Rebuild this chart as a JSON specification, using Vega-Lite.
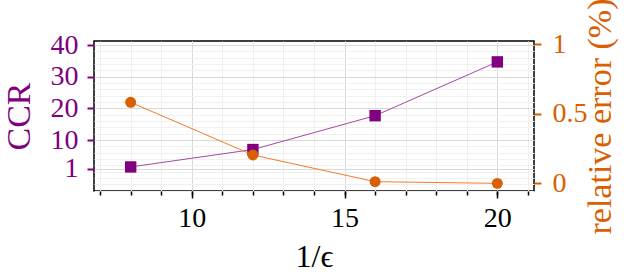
{
  "$schema": "https://vega.github.io/schema/vega-lite/v6.json",
  "width": 440,
  "height": 150,
  "autosize": {"type": "none"},
  "padding": {"left": 94, "top": 41, "right": 90, "bottom": 84},
  "background": "white",
  "config": {
    "view": {"stroke": "black", "strokeWidth": 1.5},
    "font": "Liberation Serif",
    "text": {"font": "Liberation Serif"},
    "axis": {"domain": false, "labelFont": "Liberation Serif", "titleFont": "Liberation Serif", "titleFontWeight": "normal"}
  },
  "data": {
    "values": [
      {"inv_eps": 8, "ccr": 1.5, "err": 0.583},
      {"inv_eps": 12, "ccr": 7.0, "err": 0.204},
      {"inv_eps": 16, "ccr": 17.7, "err": 0.012},
      {"inv_eps": 20, "ccr": 34.7, "err": 0.0}
    ]
  },
  "layer": [
    {
      "mark": {"type": "point", "opacity": 0},
      "encoding": {
        "x": {
          "field": "inv_eps", "type": "quantitative",
          "scale": {"domain": [6.8, 21.2], "nice": false, "zero": false},
          "axis": {
            "orient": "bottom",
            "values": [7, 8, 9, 10, 11, 12, 13, 14, 15, 16, 17, 18, 19, 20, 21],
            "grid": true, "gridColor": "#efefef", "gridWidth": 1,
            "labels": false, "tickSize": 4, "tickWidth": 1.5, "tickColor": "black",
            "title": null
          }
        },
        "y": {
          "field": "ccr", "type": "quantitative",
          "scale": {"domain": [-6.1, 41.3], "nice": false, "zero": false},
          "axis": {
            "orient": "left",
            "values": [-6, -4, -2, 0, 2, 4, 6, 8, 12, 14, 16, 18, 22, 24, 26, 28, 32, 34, 36, 38],
            "grid": true, "gridColor": "#f0f0f0", "gridWidth": 1,
            "labels": false, "ticks": false, "title": null
          }
        }
      }
    },
    {
      "mark": {
        "type": "line", "color": "#a548a5", "strokeWidth": 1,
        "point": {"shape": "square", "filled": true, "color": "#800080", "size": 130, "opacity": 1}
      },
      "encoding": {
        "x": {
          "field": "inv_eps", "type": "quantitative",
          "scale": {"domain": [6.8, 21.2], "nice": false, "zero": false},
          "axis": {
            "orient": "bottom",
            "values": [10, 15, 20],
            "grid": true, "gridColor": "#d9d9d9", "gridWidth": 1,
            "tickSize": 7, "tickWidth": 1.5, "tickColor": "black",
            "labelFont": "Liberation Serif", "labelFontSize": 28, "labelColor": "black", "labelPadding": 6,
            "title": "1/ϵ", "titleFont": "Liberation Serif", "titleFontSize": 32, "titleColor": "black", "titlePadding": 9
          }
        },
        "y": {
          "field": "ccr", "type": "quantitative",
          "scale": {"domain": [-6.1, 41.3], "nice": false, "zero": false},
          "axis": {
            "orient": "left",
            "values": [1, 10, 20, 30, 40],
            "grid": true, "gridColor": "#d9d9d9", "gridWidth": 1,
            "tickSize": 7, "tickWidth": 2, "tickColor": "#800080",
            "labelFont": "Liberation Serif", "labelFontSize": 28, "labelColor": "#800080", "labelPadding": 9,
            "title": "CCR", "titleFont": "Liberation Serif", "titleFontSize": 34, "titleColor": "#800080", "titlePadding": 14
          }
        }
      }
    },
    {
      "mark": {
        "type": "line", "color": "#ef7d2d", "strokeWidth": 1,
        "point": {"shape": "circle", "filled": true, "color": "#d95f02", "size": 120, "opacity": 1}
      },
      "encoding": {
        "x": {
          "field": "inv_eps", "type": "quantitative",
          "scale": {"domain": [6.8, 21.2], "nice": false, "zero": false},
          "axis": null
        },
        "y": {
          "field": "err", "type": "quantitative",
          "scale": {"domain": [-0.055, 1.024], "nice": false, "zero": false},
          "axis": {
            "orient": "right",
            "values": [0, 0.5, 1],
            "format": "~g",
            "grid": false,
            "tickSize": 7, "tickWidth": 2, "tickColor": "#d95f02",
            "labelFont": "Liberation Serif", "labelFontSize": 28, "labelColor": "#d95f02", "labelPadding": 11,
            "title": "relative error (%)", "titleFont": "Liberation Serif", "titleFontSize": 34, "titleColor": "#d95f02", "titleAngle": -90, "titleBaseline": "top", "titlePadding": -4
          }
        }
      }
    }
  ],
  "resolve": {
    "scale": {"y": "independent"},
    "axis": {"x": "independent", "y": "independent"}
  }
}
